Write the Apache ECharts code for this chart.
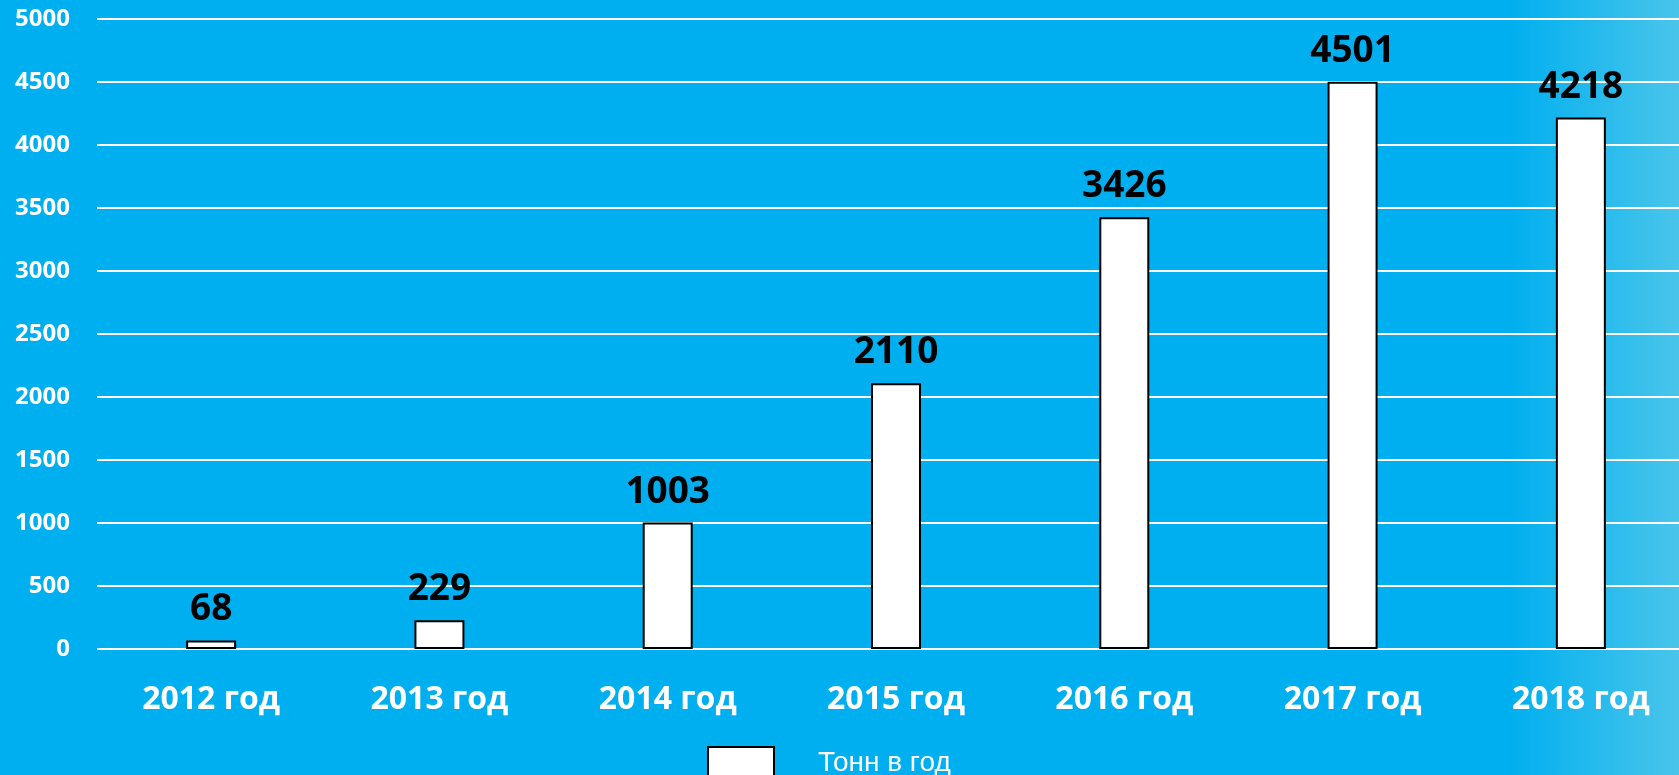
<!DOCTYPE html>
<html>
<head>
<meta charset="utf-8">
<script src="https://cdn.jsdelivr.net/npm/echarts@6/dist/echarts.min.js"></script>
<style>
  html, body { margin: 0; padding: 0; overflow: hidden; }
  /* холст чуть шире окна: последняя категория уходит за правый край */
  #chart { width: 1695px; height: 775px; }
</style>
</head>
<body>
<div id="chart"></div>
<script>
// данные графика
const years = ['2012 год', '2013 год', '2014 год', '2015 год', '2016 год', '2017 год', '2018 год']
const tonnes = [68, 229, 1003, 2110, 3426, 4501, 4218]
const seriesName = 'Тонн в год'

const chart = echarts.init(document.getElementById('chart'))
const option = {
  backgroundColor: {
    type: 'linear', x: 0, y: 0, x2: 1, y2: 0,
    colorStops: [
      { offset: 0, color: '#00afef' },
      { offset: 0.89, color: '#00afef' },
      { offset: 1, color: '#50c7ea' }
    ]
  },
  animation: false,
  grid: { left: 97, right: 0, top: 19, bottom: 126 },
  legend: {
    left: 707,
    top: 746,
    padding: 0,
    itemWidth: 66,
    itemHeight: 32,
    icon: 'rect',
    data: [seriesName],
    itemStyle: { color: '#fff', borderColor: '#000', borderWidth: 2 },
    textStyle: {
      color: '#fff',
      fontSize: 28,
      fontFamily: 'Liberation Sans',
      padding: [0, 0, 0, 39]
    }
  },
  xAxis: {
    type: 'category',
    data: years,
    axisLine: { show: false },
    axisTick: { show: false },
    axisLabel: {
      color: '#fff',
      fontSize: 32,
      fontWeight: 'bold',
      fontFamily: 'Open Sans',
      margin: 35
    }
  },
  yAxis: {
    type: 'value',
    min: 0,
    max: 5000,
    interval: 500,
    axisLine: { show: false },
    axisTick: { show: false },
    axisLabel: {
      color: '#fff',
      fontSize: 24,
      fontWeight: 'bold',
      fontFamily: 'Open Sans',
      margin: 27,
      formatter: v => String(v)
    },
    splitLine: { lineStyle: { color: '#fff', width: 2 } }
  },
  series: [
    {
      name: seriesName,
      type: 'bar',
      data: tonnes,
      barWidth: 50,
      itemStyle: { color: '#fff', borderColor: '#000', borderWidth: 2 },
      label: {
        show: true,
        position: 'top',
        distance: 12,
        color: '#000',
        fontSize: 37,
        fontWeight: 'bold',
        fontFamily: 'Open Sans'
      }
    }
  ]
}
chart.setOption(option)
</script>
</body>
</html>
